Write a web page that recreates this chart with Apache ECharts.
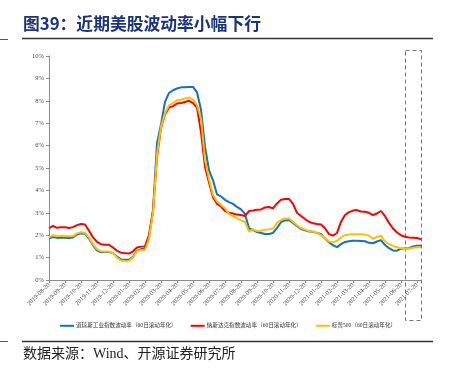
<!DOCTYPE html>
<html>
<head>
<meta charset="utf-8">
<script src="https://cdn.jsdelivr.net/npm/echarts@6/dist/echarts.min.js"></script>
<style>
html,body{margin:0;padding:0;background:#fff;}
#chart{width:451px;height:371px;}
</style>
</head>
<body>
<div id="chart"></div>
<script>
// Monthly tick labels (the 20th of each month)
const tickLabels = ['2019-08-20','2019-09-20','2019-10-20','2019-11-20','2019-12-20','2020-01-20','2020-02-20','2020-03-20','2020-04-20','2020-05-20','2020-06-20','2020-07-20','2020-08-20','2020-09-20','2020-10-20','2020-11-20','2020-12-20','2021-01-20','2021-02-20','2021-03-20','2021-04-20','2021-05-20','2021-06-20','2021-07-20'];

const seriesNames = ['道琼斯工业指数波动率（60日滚动年化）','纳斯达克指数波动率（60日滚动年化）','标普500（60日滚动年化）'];

// Values (%), sampled roughly weekly (4 samples per month)
const dowValues = [1.86,1.92,1.88,1.9,1.89,1.88,1.9,2.03,2.08,2.06,1.85,1.55,1.32,1.24,1.25,1.25,1.2,1.04,0.92,0.9,0.9,1.04,1.3,1.38,1.4,1.9,3.1,6.1,6.95,7.95,8.35,8.47,8.55,8.6,8.6,8.62,8.62,8.38,7.6,5.95,4.9,4.45,3.82,3.73,3.58,3.48,3.4,3.26,3.15,2.95,2.3,2.24,2.14,2.1,2.05,2.05,2.1,2.33,2.58,2.66,2.68,2.55,2.4,2.28,2.22,2.16,2.15,2.1,2.05,1.85,1.68,1.55,1.47,1.6,1.7,1.73,1.75,1.75,1.74,1.73,1.66,1.64,1.72,1.78,1.56,1.42,1.32,1.31,1.4,1.41,1.42,1.5,1.53,1.53];

const nasdaqValues = [2.31,2.42,2.33,2.36,2.35,2.32,2.36,2.45,2.5,2.48,2.2,1.9,1.7,1.6,1.57,1.57,1.45,1.3,1.22,1.2,1.18,1.28,1.45,1.49,1.5,2.0,3.1,5.5,6.8,7.4,7.7,7.76,7.88,7.9,7.95,8.0,7.9,7.7,6.6,5.05,4.35,3.7,3.4,3.28,3.08,3.0,2.97,2.92,2.9,2.86,3.08,3.1,3.14,3.15,3.24,3.26,3.2,3.42,3.58,3.62,3.62,3.4,3.0,2.86,2.72,2.6,2.53,2.5,2.48,2.31,2.05,1.98,2.1,2.6,2.9,3.03,3.1,3.12,3.06,3.05,3.0,2.9,2.97,3.08,2.85,2.55,2.3,2.12,2.0,1.93,1.9,1.89,1.88,1.82];

const spxValues = [1.9,2.0,1.95,1.97,1.96,1.95,1.96,2.08,2.13,2.1,1.9,1.6,1.38,1.28,1.27,1.27,1.2,1.0,0.87,0.85,0.86,1.0,1.28,1.33,1.33,1.85,3.0,5.6,6.85,7.45,7.8,7.9,8.02,8.05,8.1,8.15,8.05,7.8,7.2,5.36,4.5,3.8,3.5,3.35,3.2,2.95,2.85,2.75,2.66,2.6,2.16,2.26,2.18,2.2,2.24,2.26,2.3,2.55,2.68,2.75,2.75,2.6,2.44,2.32,2.25,2.18,2.16,2.1,2.0,1.87,1.72,1.68,1.75,1.9,2.0,2.03,2.04,2.04,2.04,2.02,1.98,1.84,1.92,1.98,1.72,1.6,1.52,1.46,1.42,1.38,1.4,1.44,1.46,1.47];

// Build category axis: 4 samples per month, plus one trailing sample
const categories = [];
tickLabels.forEach((lab, k) => {
  categories.push(lab);
  if (k < tickLabels.length - 1) {
    for (let j = 1; j < 4; j++) categories.push(lab + '#' + j);
  }
});
categories.push(tickLabels[tickLabels.length - 1] + '#1');

const isTick = (idx) => idx % 4 === 0 && idx <= (tickLabels.length - 1) * 4;

const chart = echarts.init(document.getElementById('chart'), null, {renderer: 'canvas'});
const serif = '"Liberation Serif", "Noto Sans CJK SC", serif';
const cjk = '"Liberation Serif", "Noto Sans CJK SC", sans-serif';

chart.setOption({
  animation: false,
  backgroundColor: '#fff',
  grid: {left: 49, right: 30, top: 56, bottom: 91, containLabel: false},
  xAxis: {
    type: 'category',
    data: categories,
    boundaryGap: false,
    axisLine: {show: true, lineStyle: {color: '#8c8c8c', width: 1}},
    axisTick: {show: true, length: 3, interval: (i) => isTick(i), lineStyle: {color: '#8c8c8c'}},
    axisLabel: {
      interval: (i) => isTick(i),
      rotate: 45,
      fontSize: 6.3,
      color: '#444',
      fontFamily: serif,
      margin: 4,
      formatter: (v) => v.indexOf('#') >= 0 ? '' : v
    },
    splitLine: {show: false}
  },
  yAxis: {
    type: 'value',
    min: 0, max: 10, interval: 1,
    axisLine: {show: true, lineStyle: {color: '#8c8c8c', width: 1}},
    axisTick: {show: true, length: 3, lineStyle: {color: '#8c8c8c'}},
    axisLabel: {formatter: '{value}%', fontSize: 6.5, color: '#444', fontFamily: serif, margin: 5},
    splitLine: {show: false}
  },
  legend: {
    left: 55, top: 318,
    itemWidth: 14, itemHeight: 2, itemGap: 14,
    icon: 'rect',
    textStyle: {fontSize: 5.6, color: '#333', fontFamily: cjk, padding: [0,0,0,-3]},
    data: seriesNames
  },
  series: [
    {name: seriesNames[0], type: 'line', data: dowValues, showSymbol: false, symbol: 'none',
     lineStyle: {color: '#0f72c4', width: 2}, itemStyle: {color: '#0f72c4'}},
    {name: seriesNames[1], type: 'line', data: nasdaqValues, showSymbol: false, symbol: 'none',
     lineStyle: {color: '#ff0000', width: 2}, itemStyle: {color: '#ff0000'}},
    {name: seriesNames[2], type: 'line', data: spxValues, showSymbol: false, symbol: 'none',
     lineStyle: {color: '#ffc000', width: 2}, itemStyle: {color: '#ffc000'}}
  ],
  graphic: [
    {type: 'text', left: 23, top: 15, style: {text: '图39：近期美股波动率小幅下行', fontSize: 16.8, fontWeight: 'bold', fill: '#1a3380', fontFamily: '"Noto Sans CJK SC", sans-serif'}},
    {type: 'line', shape: {x1: 22, y1: 38.5, x2: 433, y2: 38.5}, style: {stroke: '#333', lineWidth: 1.5}},
    {type: 'line', shape: {x1: 0, y1: 39.5, x2: 8, y2: 39.5}, style: {stroke: '#555', lineWidth: 1}},
    {type: 'rect', shape: {x: 405.5, y: 50.5, width: 16, height: 270}, style: {fill: 'none', stroke: '#777', lineWidth: 1, lineDash: [4, 3]}},
    {type: 'line', shape: {x1: 22, y1: 341.5, x2: 433, y2: 341.5}, style: {stroke: '#333', lineWidth: 1.5}},
    {type: 'line', shape: {x1: 0, y1: 341.5, x2: 8, y2: 341.5}, style: {stroke: '#555', lineWidth: 1}},
    {type: 'text', left: 23, top: 347, style: {text: '数据来源：Wind、开源证券研究所', fontSize: 14, fill: '#222', fontFamily: '"Liberation Serif", "Noto Sans CJK SC", serif'}}
  ]
});
</script>
</body>
</html>
